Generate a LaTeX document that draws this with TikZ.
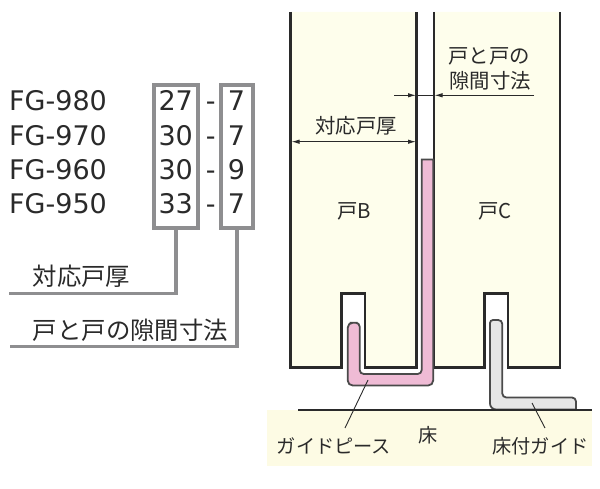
\documentclass[tikz,border=0pt]{standalone}
\usepackage{fontspec}
\setmainfont{DejaVu Sans}
\newfontfamily\cjk{Noto Sans CJK JP}
\usetikzlibrary{arrows.meta}
\definecolor{ink}{HTML}{2A2A2A}
\definecolor{doorfill}{HTML}{FEFEEC}
\definecolor{floorfill}{HTML}{FDFBE4}
\definecolor{pinkfill}{HTML}{EFBBD5}
\definecolor{guidefill}{HTML}{E6E6E6}
\definecolor{boxgrey}{HTML}{8E8E90}
\tikzset{
  every node/.style={inner sep=0pt,outer sep=0pt,text=ink},
  doorline/.style={draw=ink,line width=2.6pt,line join=miter},
  boxframe/.style={draw=boxgrey,line width=4.2pt},
  boxlead/.style={draw=boxgrey,line width=3.8pt},
  part/.style={draw=ink!85,line width=1.8pt,rounded corners=4pt},
  thin leader/.style={draw=ink,line width=0.9pt},
  dimline/.style={draw=ink,line width=1pt},
  dimtip/.style={{Latex[length=8pt,width=4.5pt]}-{Latex[length=8pt,width=4.5pt]},dimline},
  model/.style={anchor=base west,font=\fontsize{27}{27}\selectfont},
  num/.style={anchor=base,font=\fontsize{27}{27}\selectfont},
  jbig/.style={font=\cjk\fontsize{24.4}{24.4}\selectfont},
  jmid/.style={font=\cjk\fontsize{20.4}{20.4}\selectfont},
  jlab/.style={font=\cjk\fontsize{19.2}{19.2}\selectfont}
}
\begin{document}
\begin{tikzpicture}[x=1pt,y=-1pt]
\useasboundingbox (0,0) rectangle (600,489);
% floor
\fill[floorfill] (267,410) rectangle (592,466);
% doors
\fill[doorfill] (290.5,12) -- (290.5,367.5) -- (341.5,367.5) -- (341.5,293.5) -- (365,293.5) -- (365,367.5) -- (416.7,367.5) -- (416.7,12) -- cycle;
\fill[doorfill] (434,12) -- (434,367.5) -- (484.5,367.5) -- (484.5,293.5) -- (508,293.5) -- (508,367.5) -- (560,367.5) -- (560,12) -- cycle;
\draw[doorline] (290.5,12) -- (290.5,367.5) -- (341.5,367.5) -- (341.5,293.5) -- (365,293.5) -- (365,367.5) -- (416.7,367.5) -- (416.7,12);
\draw[doorline] (434,12) -- (434,367.5) -- (484.5,367.5) -- (484.5,293.5) -- (508,293.5) -- (508,367.5) -- (560,367.5) -- (560,12);
% guide piece
\draw[part,fill=pinkfill] (353.5,322.7) -- (359.7,322.7) -- (359.7,374) -- (421.7,374) [sharp corners] -- (421.7,159.5) -- (433.2,159.5) [rounded corners=5pt] -- (433.2,385.5) -- (347.7,385.5) -- (347.7,322.7) [rounded corners=4pt] -- cycle;
% floor guide
\draw[part,fill=guidefill] (490,320) -- (502.3,320) -- (502.3,397.5) -- (576,397.5) [sharp corners] -- (576,409.5) -- (498,409.5) [rounded corners=6pt] -- (490,409.5) [rounded corners=3pt] -- cycle;
% floor line
\coordinate (floorL) at (298,410.3);
\coordinate (floorR) at (592,410.3);
\draw[draw=ink,line width=2pt] (floorL) -- (floorR);
% door labels
\node[jmid] (doorB) at (354,211) {戸B};
\node[jmid] (doorC) at (495,211) {戸C};
\node[jlab] (floorT) at (428,435) {床};
% part labels and leaders
\node[jlab] (gpiece) at (334,446) {ガイドピース};
\node[jlab] (fguide) at (540.5,446) {床付ガイド};
\coordinate (gpieceP) at (368,380);
\coordinate (gpieceL) at (345,428);
\coordinate (fguideP) at (532,403);
\coordinate (fguideL) at (545,428);
\draw[thin leader] (gpieceL) -- (gpieceP);
\draw[thin leader] (fguideL) -- (fguideP);
% dimensions
\node[jmid] (thickT) at (356,125.5) {対応戸厚};
\coordinate (thickL) at (291.5,141.7);
\coordinate (thickR) at (416,141.7);
\draw[dimtip] (thickL) -- (thickR);
\node[jmid] (gapA) at (489,56) {戸と戸の};
\node[jmid] (gapB) at (490,81) {隙間寸法};
\coordinate (gapL) at (394,95.3);
\coordinate (gapM) at (416,95.3);
\coordinate (gapN) at (434.5,95.3);
\coordinate (gapR) at (534,95.3);
\draw[dimline,-{Latex[length=8pt,width=4.5pt]}] (gapL) -- (gapM);
\draw[dimline,-{Latex[length=8pt,width=4.5pt]}] (gapR) -- (gapN);
\draw[dimline] (gapM) -- (gapN);
% table
\node[model] (m1) at (9.2,111) {FG-980};
\node[model] (m2) at (9.2,145.3) {FG-970};
\node[model] (m3) at (9.2,179.3) {FG-960};
\node[model] (m4) at (9.2,213.3) {FG-950};
\node[num] (a1) at (175.7,111) {27};
\node[num] (a2) at (175.7,145.3) {30};
\node[num] (a3) at (175.7,179.3) {30};
\node[num] (a4) at (175.7,213.3) {33};
\node[num] (d1) at (210.7,111) {-};
\node[num] (d2) at (210.7,145.3) {-};
\node[num] (d3) at (210.7,179.3) {-};
\node[num] (d4) at (210.7,213.3) {-};
\node[num] (b1) at (236.5,111) {7};
\node[num] (b2) at (236.5,145.3) {7};
\node[num] (b3) at (236.5,179.3) {9};
\node[num] (b4) at (236.5,213.3) {7};
\draw[boxframe] (154,85) rectangle (198,228);
\draw[boxframe] (221,85) rectangle (253,228);
\coordinate (boxAb) at (175.7,228);
\coordinate (boxBb) at (237,228);
\coordinate (leadA) at (9,293.5);
\coordinate (leadB) at (10,346.5);
\draw[boxlead] (boxAb) |- (leadA);
\draw[boxlead] (boxBb) |- (leadB);
\node[jbig] (leadAT) at (81.5,276) {対応戸厚};
\node[jbig] (leadBT) at (130.5,330) {戸と戸の隙間寸法};
\end{tikzpicture}
\end{document}
